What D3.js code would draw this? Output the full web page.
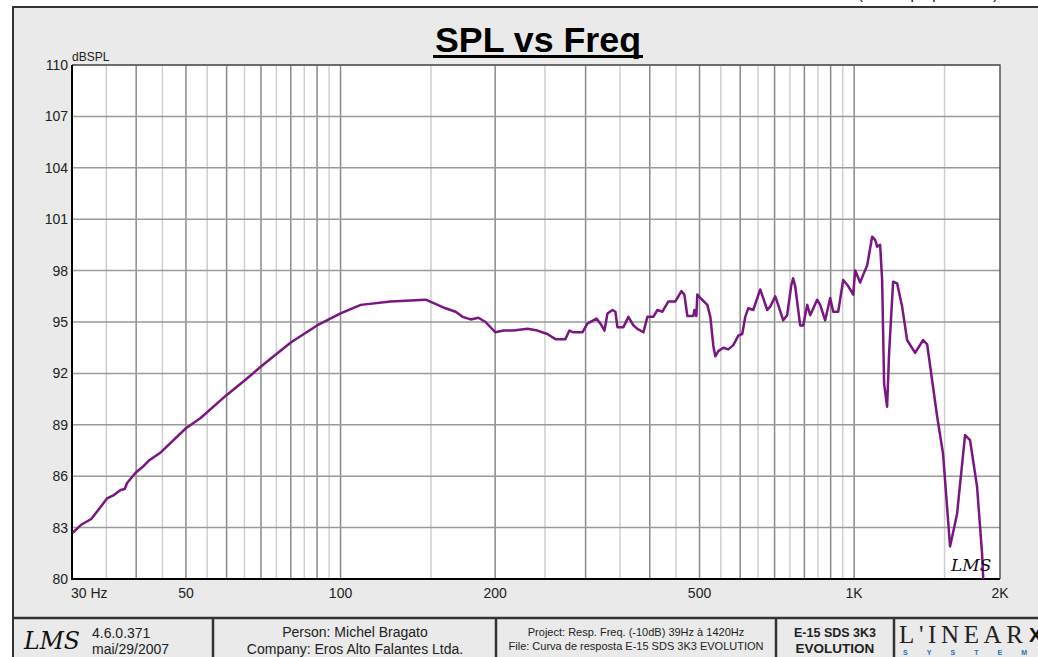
<!DOCTYPE html>
<html>
<head>
<meta charset="utf-8">
<script src="https://cdn.jsdelivr.net/npm/d3@7"></script>
<style>
    body { margin: 0; background: #ffffff; overflow: hidden; }
    svg { display: block; font-family: "Liberation Sans", Arial, sans-serif; }
</style>
</head>
<body>
<div id="chart"></div>
<script>
// Measured response (Hz, dB SPL)
const freqHz = [
    30.1, 31.2, 32.7, 34.1, 35.1, 36.2, 37.3, 38.0, 38.4, 39.9, 41.2, 42.3, 44.7, 50.0, 53.4,
    59.8, 64.5, 70, 80, 90, 100, 109.5, 125.2, 146.5, 160.1, 167.5, 172.8, 179.2, 185.6, 191.5,
    200.3, 207.6, 217.1, 231.1, 241.7, 252.8, 262.0, 274.0, 279.0, 284.1, 295.7, 302.4, 315.0,
    320.7, 326.5, 330.9, 338.4, 342.9, 346.0, 355.4, 363.5, 371.7, 378.4, 388.8, 395.8, 406.5,
    413.9, 423.3, 434.8, 448.7, 460.9, 467.1, 473.4, 486.3, 488.5, 492.9, 495.1, 501.8, 517.8,
    524.8, 531.9, 536.7, 543.9, 556.2, 568.8, 581.7, 594.9, 605.5, 613.7, 622.0, 636.1, 656.4,
    677.3, 686.5, 702.1, 711.4, 727.6, 740.6, 753.9, 760.7, 767.6, 785.1, 795.8, 810.2, 821.2,
    847.2, 858.8, 878.2, 898.2, 910.3, 931.0, 952.0, 973.6, 995.7, 1004.7, 1027.3, 1041.2,
    1060.0, 1084.1, 1098.7, 1108.6, 1123.5, 1133.6, 1143.8, 1159.3, 1169.7, 1190.9, 1212.5,
    1240.0, 1268.0, 1314.3, 1362.4, 1387.2, 1418.5, 1450.6, 1489.8, 1537.2, 1586.2, 1644.2,
    1681.4, 1734.9, 1774.4, 1790.0
];
const splDb = [
    82.7, 83.15, 83.5, 84.2, 84.7, 84.9, 85.2, 85.25, 85.6, 86.2, 86.55, 86.9, 87.4, 88.8, 89.4,
    90.7, 91.5, 92.4, 93.8, 94.8, 95.5, 96.0, 96.2, 96.3, 95.8, 95.6, 95.3, 95.15, 95.25, 95.0,
    94.4, 94.5, 94.5, 94.6, 94.5, 94.3, 94.0, 94.0, 94.5, 94.4, 94.4, 94.9, 95.2,
    94.9, 94.5, 95.5, 95.7, 95.6, 94.7, 94.7, 95.3, 94.8, 94.6, 94.4, 95.3, 95.3,
    95.7, 95.6, 96.2, 96.2, 96.8, 96.6, 95.35, 95.35, 95.7, 95.35, 96.6, 96.4, 96.0,
    95.3, 93.6, 93.0, 93.3, 93.5, 93.4, 93.65, 94.2, 94.3, 95.3, 95.8, 95.7, 96.9,
    95.7, 95.9, 96.5, 96.0, 95.1, 95.4, 97.1, 97.55, 97.1, 94.8, 94.8, 96.0, 95.4,
    96.3, 96.0, 95.1, 96.4, 95.6, 95.6, 97.45, 97.1, 96.6, 98.0, 97.3, 97.75,
    98.3, 99.98, 99.8, 99.4, 99.5, 97.45, 91.4, 90.05, 93.2, 97.35, 97.25,
    95.9, 93.95, 93.2, 93.95, 93.7, 91.6, 89.5, 87.3, 81.9, 83.8, 88.4,
    88.1, 85.4, 81.5, 79.0
];

const yTicks = [80, 83, 86, 89, 92, 95, 98, 101, 104, 107, 110];
const majorFreqs = [30, 40, 50, 60, 70, 80, 90, 100, 200, 300, 400, 500, 600, 700, 800, 900, 1000];
const minorFreqs = [35, 45, 55, 65, 75, 85, 95, 150, 250, 350, 450, 550, 650, 750, 850, 950, 1500];
const xLabelFreqs = [30, 50, 100, 200, 500, 1000, 1923];
const xLabelText = ["30 Hz", "50", "100", "200", "500", "1K", "2K"];

const footerCells = [
    { x0: 13, x1: 213 },
    { x0: 213, x1: 496 },
    { x0: 496, x1: 776 },
    { x0: 776, x1: 894 },
    { x0: 894, x1: 1040 }
];

const W = 1038, H = 657;
const plot = { left: 72, right: 1000, top: 65, bottom: 579 };

const svg = d3.select("#chart").append("svg")
    .attr("width", W)
    .attr("height", H);

// header text cut off by the top edge, only descenders show
svg.append("text")
    .attr("x", 858).attr("y", -1)
    .attr("font-size", 15)
    .attr("fill", "#111")
    .text("(escala proporcional)");

// grey panel
svg.append("rect")
    .attr("x", 13).attr("y", 7)
    .attr("width", W + 10).attr("height", H)
    .attr("fill", "#e9eae9")
    .attr("stroke", "#333")
    .attr("stroke-width", 2);

// title
svg.append("text")
    .attr("x", 538).attr("y", 52)
    .attr("text-anchor", "middle")
    .attr("font-size", 35)
    .attr("font-weight", "bold")
    .attr("textLength", 206)
    .attr("lengthAdjust", "spacingAndGlyphs")
    .attr("fill", "#000")
    .text("SPL vs Freq");
svg.append("line")
    .attr("x1", 433).attr("x2", 643)
    .attr("y1", 56.5).attr("y2", 56.5)
    .attr("stroke", "#000").attr("stroke-width", 3);

const x = d3.scaleLog().domain([30, 1923]).range([plot.left, plot.right]);
const y = d3.scaleLinear().domain([80, 110]).range([plot.bottom, plot.top]);

svg.append("rect")
    .attr("x", plot.left).attr("y", plot.top)
    .attr("width", plot.right - plot.left)
    .attr("height", plot.bottom - plot.top)
    .attr("fill", "#ffffff");

const grid = svg.append("g");

grid.selectAll(".minor").data(minorFreqs).enter().append("line")
    .attr("x1", d => x(d)).attr("x2", d => x(d))
    .attr("y1", plot.top).attr("y2", plot.bottom)
    .attr("stroke", "#cfcfcf").attr("stroke-width", 1.5);

grid.selectAll(".major").data(majorFreqs).enter().append("line")
    .attr("x1", d => x(d)).attr("x2", d => x(d))
    .attr("y1", plot.top).attr("y2", plot.bottom)
    .attr("stroke", "#8a8a8a").attr("stroke-width", 1.5);

grid.selectAll(".hgrid").data(yTicks).enter().append("line")
    .attr("x1", plot.left).attr("x2", plot.right)
    .attr("y1", d => y(d)).attr("y2", d => y(d))
    .attr("stroke", "#9a9a9a").attr("stroke-width", 1.5);

// frame
svg.append("path")
    .attr("d", `M${plot.left},${plot.top}H${plot.right}V${plot.bottom}`)
    .attr("fill", "none").attr("stroke", "#555").attr("stroke-width", 1.5);
svg.append("path")
    .attr("d", `M${plot.left},${plot.top}V${plot.bottom}H${plot.right}`)
    .attr("fill", "none").attr("stroke", "#000").attr("stroke-width", 2);

// y tick labels
svg.append("g").selectAll("text").data(yTicks).enter().append("text")
    .attr("x", 68).attr("y", d => y(d) + 5)
    .attr("text-anchor", "end")
    .attr("font-size", 14)
    .attr("fill", "#222")
    .text(d => d);
svg.append("text")
    .attr("x", 72).attr("y", 61)
    .attr("font-size", 12)
    .attr("fill", "#222")
    .text("dBSPL");

// x tick labels
svg.append("g").selectAll("text").data(xLabelFreqs).enter().append("text")
    .attr("x", (d, i) => i === 0 ? x(d) - 1 : x(d))
    .attr("y", 598)
    .attr("text-anchor", (d, i) => i === 0 ? "start" : "middle")
    .attr("font-size", 14)
    .attr("fill", "#222")
    .text((d, i) => xLabelText[i]);

// curve
svg.append("clipPath").attr("id", "plot-clip")
    .append("rect")
    .attr("x", plot.left).attr("y", plot.top)
    .attr("width", plot.right - plot.left)
    .attr("height", plot.bottom - plot.top);

const line = d3.line()
    .x(d => x(d[0]))
    .y(d => y(d[1]));

svg.append("path")
    .datum(d3.zip(freqHz, splDb))
    .attr("clip-path", "url(#plot-clip)")
    .attr("d", line)
    .attr("fill", "none")
    .attr("stroke", "#7a1682")
    .attr("stroke-width", 2.5)
    .attr("stroke-linejoin", "round");

// LMS mark in the plot corner
svg.append("text")
    .attr("x", 951).attr("y", 571)
    .attr("font-family", "DejaVu Serif")
    .attr("font-style", "italic")
    .attr("font-size", 17)
    .attr("fill", "#111")
    .text("LMS");

// footer
const footer = svg.append("g");
footer.append("line")
    .attr("x1", 13).attr("x2", W)
    .attr("y1", 618).attr("y2", 618)
    .attr("stroke", "#333").attr("stroke-width", 2.5);
footer.selectAll(".sep").data(footerCells.slice(1)).enter().append("line")
    .attr("x1", d => d.x0).attr("x2", d => d.x0)
    .attr("y1", 618).attr("y2", H)
    .attr("stroke", "#333").attr("stroke-width", 2.5);

footer.append("text")
    .attr("x", 24).attr("y", 649)
    .attr("font-family", "DejaVu Serif")
    .attr("font-style", "italic")
    .attr("font-size", 24)
    .attr("textLength", 56)
    .attr("lengthAdjust", "spacingAndGlyphs")
    .attr("fill", "#111")
    .text("LMS");
footer.append("text").attr("x", 92).attr("y", 638)
    .attr("font-size", 14).attr("fill", "#222").text("4.6.0.371");
footer.append("text").attr("x", 92).attr("y", 654)
    .attr("font-size", 14).attr("fill", "#222").text("mai/29/2007");

footer.append("text").attr("x", 355).attr("y", 637)
    .attr("text-anchor", "middle").attr("font-size", 14).attr("fill", "#222")
    .text("Person: Michel Bragato");
footer.append("text").attr("x", 355).attr("y", 654)
    .attr("text-anchor", "middle").attr("font-size", 14).attr("fill", "#222")
    .text("Company: Eros Alto Falantes Ltda.");

footer.append("text").attr("x", 636).attr("y", 636)
    .attr("text-anchor", "middle").attr("font-size", 11).attr("fill", "#222")
    .text("Project: Resp. Freq. (-10dB) 39Hz à 1420Hz");
footer.append("text").attr("x", 636).attr("y", 650)
    .attr("text-anchor", "middle").attr("font-size", 11).attr("fill", "#222")
    .text("File: Curva de resposta E-15 SDS 3K3 EVOLUTION");

footer.append("text").attr("x", 835).attr("y", 637)
    .attr("text-anchor", "middle").attr("font-size", 12.5).attr("font-weight", "bold").attr("fill", "#222")
    .text("E-15 SDS 3K3");
footer.append("text").attr("x", 835).attr("y", 653)
    .attr("text-anchor", "middle").attr("font-size", 13.5).attr("font-weight", "bold").attr("fill", "#222")
    .text("EVOLUTION");

footer.append("text").attr("x", 899).attr("y", 643)
    .attr("font-family", "Liberation Serif").attr("font-size", 25)
    .attr("textLength", 124)
    .attr("lengthAdjust", "spacing")
    .attr("fill", "#222")
    .text("L'INEAR");
footer.append("text").attr("x", 1029).attr("y", 642)
    .attr("font-size", 20).attr("font-weight", "bold").attr("fill", "#111")
    .text("X");
footer.append("text").attr("x", 903).attr("y", 655)
    .attr("font-size", 7).attr("font-weight", "bold")
    .attr("textLength", 124)
    .attr("lengthAdjust", "spacing")
    .attr("fill", "#2a6fb5")
    .text("SYSTEM");
</script>
</body>
</html>
